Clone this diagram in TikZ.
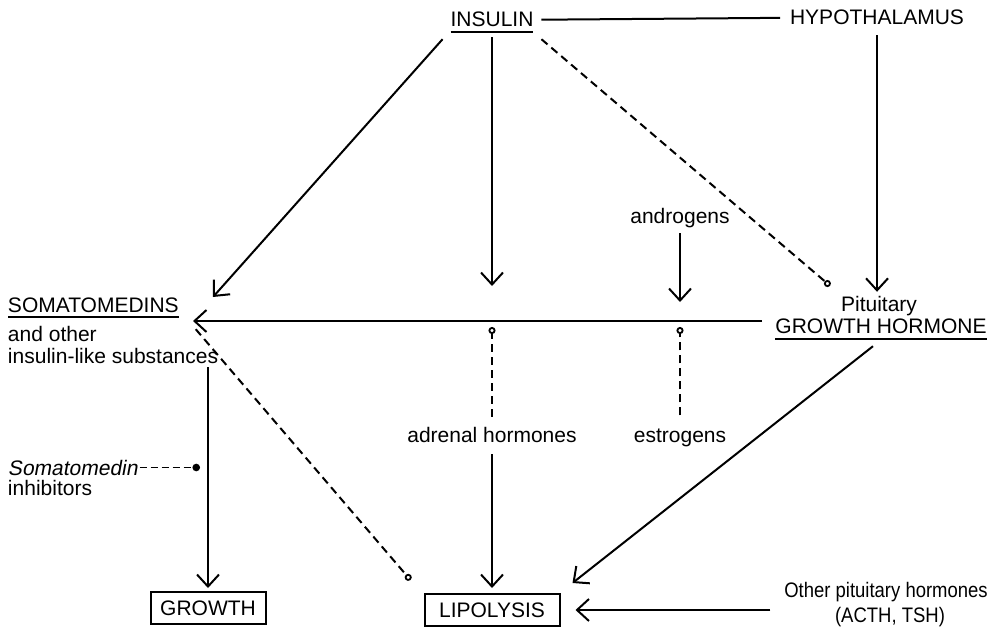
\documentclass[tikz,border=0pt]{standalone}
\usepackage{fontspec}
\setmainfont{Liberation Sans}
\newfontfamily\lblfont[ItalicFont={Liberation Sans}, ItalicFeatures={FakeSlant=0.18}]{Liberation Sans}
\usepackage{graphicx}
\usetikzlibrary{arrows.meta}
\begin{document}
\begin{tikzpicture}[x=1pt,y=-1pt,
  lbl/.style={inner sep=0pt, outer sep=0pt, font=\lblfont\fontsize{21}{25}\selectfont},
  con/.style={line width=2pt},
  arr/.style={con, -{Straight Barb[length=12pt,width=22pt,line width=2pt]}},
  inh/.style={line width=2pt, dash pattern=on 8pt off 5pt, -{Circle[open,length=7pt,width=7pt,line width=1.8pt,sep=0pt]}},
  inhf/.style={line width=1.8pt, dash pattern=on 7pt off 4pt, -{Circle[length=7.5pt,width=7.5pt]}},
  ul/.style={line width=2pt},
  box/.style={draw, line width=2pt, inner sep=0pt, minimum height=32pt, font=\lblfont\fontsize{21}{25}\selectfont}
]
\useasboundingbox (0,0) rectangle (992,628);

% nodes
\node[lbl, anchor=base] (ins) at (492,27) {INSULIN};
\node[lbl, anchor=base] (hyp) at (877,25) {HYPOTHALAMUS};
\node[lbl, anchor=base west] (som) at (8,312) {SOMATOMEDINS};
\node[lbl, anchor=base west] (som2) at (8,341) {and other};
\node[lbl, anchor=base west] (som3) at (8,363) {insulin-like substances};
\node[lbl, anchor=base] (andr) at (680,224) {androgens};
\node[lbl, anchor=base] (pit) at (879,311) {Pituitary};
\node[lbl, anchor=base] (gh) at (881,333) {GROWTH HORMONE};
\node[lbl, anchor=base] (adr) at (492,442) {adrenal hormones};
\node[lbl, anchor=base] (est) at (680,442) {estrogens};
\node[lbl, anchor=base west] (smi) at (8,475) {\itshape Somatomedin};
\node[lbl, anchor=base west] (smi2) at (8,495) {inhibitors};
\node[lbl, anchor=base] (oth) at (886,597) {\scalebox{0.88}[1]{Other pituitary hormones}};
\node[lbl, anchor=base] (oth2) at (890,622) {\scalebox{0.88}[1]{(ACTH, TSH)}};
\node[box, minimum width=115pt] (gro) at (208,608) {GROWTH};
\node[box, minimum width=135pt] (lip) at (492,610) {LIPOLYSIS};

% underlines
\draw[ul] ([yshift=-5pt]ins.base west) -- ([yshift=-5pt]ins.base east);
\draw[ul] ([yshift=-5pt]som.base west) -- ([yshift=-5pt]som.base east);
\draw[ul] ([yshift=-6pt]gh.base west) -- ([yshift=-6pt]gh.base east);

% free ends of the main horizontal line
\coordinate (hR) at (762,321);
\coordinate (hL) at (193,321);
\coordinate (tsom) at (213,297);

% connectors
\draw[con, shorten <=8pt, shorten >=10pt] (ins.east) -- (hyp.west);
\draw[arr] ([yshift=-10pt]hyp.south) -- ([yshift=4pt]hyp.south |- pit.north);
\draw[arr] ([shift={(-8,12)}]ins.south west) -- (tsom);
\draw[arr] ([yshift=-10pt]ins.south) -- ([yshift=35pt]ins.south |- hL);
\draw[inh] ([shift={(8,12)}]ins.south east) -- ([shift={(-11,-10)}]pit.north west);
\draw[arr] ([yshift=-5pt]andr.south) -- ([yshift=19pt]andr.south |- hL);
\draw[arr] (hR) -- (hL);
\draw[inh] ([yshift=10pt]adr.north) -- ([yshift=-6pt]adr.north |- hL);
\draw[inh] ([yshift=13pt]est.north) -- ([yshift=-6pt]est.north |- hL);
\draw[arr] ([yshift=-12pt]adr.south) -- ([yshift=5pt]adr.south |- lip.north);
\draw[arr] ([shift={(-8,13)}]gh.south) -- ([shift={(12,-10)}]lip.north east);
\draw[inh] ([shift={(17,17)}]som.south east) -- ([shift={(-13,-13)}]lip.north west);
\draw[arr] ([yshift=-4pt]gro.north |- som3.south) -- ([yshift=3pt]gro.north);
\draw[inhf] ([xshift=2pt]smi.east) -- ([xshift=-8pt]smi.east -| gro.north);
\draw[arr] ([xshift=-14pt]oth.west |- lip.east) -- ([xshift=15pt]lip.east);
\end{tikzpicture}
\end{document}
